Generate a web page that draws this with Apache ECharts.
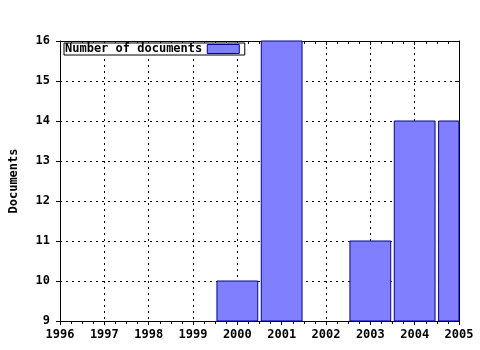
<!DOCTYPE html>
<html>
<head>
<meta charset="utf-8">
<script src="https://cdn.jsdelivr.net/npm/echarts@6/dist/echarts.min.js"></script>
<style>
  html, body { margin: 0; padding: 0; background: #fff; }
  #main { width: 480px; height: 350px; }
</style>
</head>
<body>
<div id="main"></div>
<script>
// 数据
var years = [2000, 2001, 2003, 2004, 2005];
var docs = [10, 16, 11, 14, 14];

var font = 'DejaVu Sans Mono';
var barColor = '#8080ff';
var barBorder = '#0000a0';
var chart = echarts.init(document.getElementById('main'));

var gridLine = { show: true, lineStyle: { color: '#000', type: [2, 4], width: 1 } };
var labelStyle = { color: '#000', fontFamily: font, fontWeight: 'bold', fontSize: 12 };

// 柱子按年份居中, 宽度约 0.92 年, 超出绘图区的部分裁掉
function renderBar(params, api) {
    var x = api.value(0);
    var top = api.coord([x - 0.46, api.value(1)]);
    var bottom = api.coord([x + 0.46, 9]);
    var rect = echarts.graphic.clipRectByRect({
        x: top[0], y: top[1],
        width: bottom[0] - top[0], height: bottom[1] - top[1]
    }, {
        x: params.coordSys.x, y: params.coordSys.y,
        width: params.coordSys.width, height: params.coordSys.height
    });
    if (!rect) return;
    return {
        type: 'rect',
        shape: rect,
        style: { fill: barColor, stroke: barBorder, lineWidth: 1 }
    };
}

chart.setOption({
    animation: false,
    backgroundColor: '#fff',
    grid: { left: 57, right: 21, top: 41, bottom: 29 },
    legend: {
        left: 64, top: 43,
        align: 'right',
        backgroundColor: '#fff',
        borderColor: '#000',
        borderWidth: 1,
        borderRadius: 0,
        padding: [0, 5, 0, 1],
        itemWidth: 32,
        itemHeight: 9,
        itemGap: 5,
        textStyle: labelStyle,
        data: [{ name: 'Number of documents', icon: 'rect',
                 itemStyle: { color: barColor, borderColor: barBorder, borderWidth: 1 } }]
    },
    xAxis: [{
        type: 'value',
        min: 1996, max: 2005, interval: 1,
        axisLine: { show: true, lineStyle: { color: '#000' } },
        axisTick: { show: true, length: 4, lineStyle: { color: '#000' } },
        minorTick: { show: true, splitNumber: 4, length: 3, lineStyle: { color: '#000' } },
        axisLabel: Object.assign({ margin: 8, formatter: function (v) { return String(v); } }, labelStyle),
        splitLine: gridLine
    }, {
        type: 'value', position: 'top',
        min: 1996, max: 2005, interval: 1,
        axisLine: { show: true, lineStyle: { color: '#000' } },
        axisTick: { show: true, inside: true, length: 4, lineStyle: { color: '#000' } },
        minorTick: { show: true, splitNumber: 4, length: 3, lineStyle: { color: '#000' } },
        axisLabel: { show: false },
        splitLine: { show: false }
    }],
    yAxis: [{
        type: 'value',
        min: 9, max: 16, interval: 1,
        name: 'Documents',
        nameLocation: 'middle',
        nameGap: 40,
        nameTextStyle: labelStyle,
        axisLine: { show: true, lineStyle: { color: '#000' } },
        axisTick: { show: true, length: 4, lineStyle: { color: '#000' } },
        axisLabel: Object.assign({ margin: 10 }, labelStyle),
        splitLine: gridLine
    }, {
        type: 'value', position: 'right',
        min: 9, max: 16, interval: 1,
        axisLine: { show: true, lineStyle: { color: '#000' } },
        axisTick: { show: true, inside: true, length: 4, lineStyle: { color: '#000' } },
        axisLabel: { show: false },
        splitLine: { show: false }
    }],
    series: [{
        name: 'Number of documents',
        type: 'custom',
        renderItem: renderBar,
        itemStyle: { color: barColor, borderColor: barBorder, borderWidth: 1 },
        encode: { x: 0, y: 1 },
        data: years.map(function (y, i) { return [y, docs[i]]; })
    }]
});
</script>
</body>
</html>
